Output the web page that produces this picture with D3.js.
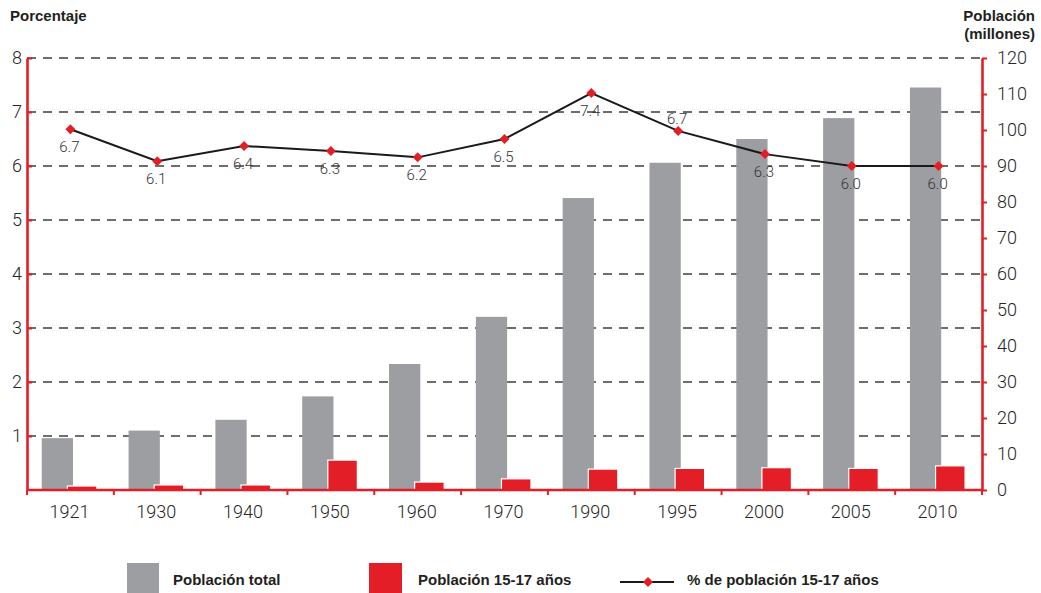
<!DOCTYPE html>
<html>
<head>
<meta charset="utf-8">
<script src="https://cdn.jsdelivr.net/npm/d3@7"></script>
<style>
  body { margin: 0; background: #fff; }
  text { font-family: Roboto, "Liberation Sans", sans-serif; }
  .tick text { font-weight: 300; fill: #262626; }
  .ttl { font-family: "Liberation Sans", Arial, sans-serif; font-weight: bold; font-size: 15px; fill: #231f20; }
</style>
</head>
<body>
<svg id="chart" width="1041" height="593"></svg>
<script>
'use strict'

var years    = ['1921','1930','1940','1950','1960','1970','1990','1995','2000','2005','2010']
var poblTotal = [14.4, 16.5, 19.5, 26.0, 35.0, 48.1, 81.1, 90.9, 97.5, 103.3, 111.8]   // millones
var pobl1517  = [1.1, 1.4, 1.4, 8.3, 2.2, 3.1, 5.8, 6.0, 6.2, 6.0, 6.7]                 // millones
var pct1517   = [6.68, 6.09, 6.37, 6.28, 6.16, 6.5, 7.35, 6.65, 6.22, 6.0, 6.0]         // % (as plotted)
var pctLabels = ['6.7','6.1','6.4','6.3','6.2','6.5','7.4','6.7','6.3','6.0','6.0']
var labelAbove = ['1995']
var leftTicks  = [1,2,3,4,5,6,7,8]
var rightTicks = [0,10,20,30,40,50,60,70,80,90,100,110,120]

var RED = '#e41e26', GRAY = '#9d9ea2'

var svg = d3.select('#chart')
var x0 = 27, x1 = 982, yTop = 58, yBot = 490

var x = d3.scaleBand().domain(years).range([x0, x1])
var yL = d3.scaleLinear().domain([0, 8]).range([yBot, yTop])
var yR = d3.scaleLinear().domain([0, 120]).range([yBot, yTop])
var bw = x.bandwidth()

// dashed grid
svg.append('g').selectAll('line')
  .data(leftTicks)
  .enter().append('line')
    .attr('x1', x0).attr('x2', x1)
    .attr('y1', d => yL(d)).attr('y2', d => yL(d))
    .attr('stroke', '#3f3f3f')
    .attr('stroke-width', 1.3)
    .attr('stroke-dasharray', '9,7')

// bars
var data = years.map((y, i) => ({year: y, total: poblTotal[i], jov: pobl1517[i], pct: pct1517[i], lab: pctLabels[i]}))

svg.append('g').selectAll('rect')
  .data(data)
  .enter().append('rect')
    .attr('x', d => x(d.year) + bw * 0.17)
    .attr('width', bw * 0.36)
    .attr('y', d => yR(d.total))
    .attr('height', d => yBot - yR(d.total))
    .attr('fill', GRAY)

svg.append('g').selectAll('rect')
  .data(data)
  .enter().append('rect')
    .attr('x', d => x(d.year) + bw * 0.465)
    .attr('width', bw * 0.34)
    .attr('y', d => yR(d.jov))
    .attr('height', d => yBot - yR(d.jov))
    .attr('fill', RED)
    .attr('stroke', '#fff')
    .attr('stroke-width', 1.2)

// axes
var axL = svg.append('g')
  .attr('transform', 'translate(' + x0 + ',0)')
  .call(d3.axisLeft(yL).tickValues(leftTicks).tickSize(-5).tickPadding(5).tickSizeOuter(0))
var axR = svg.append('g')
  .attr('transform', 'translate(' + x1 + ',0)')
  .call(d3.axisRight(yR).tickValues(rightTicks).tickSize(5).tickPadding(10).tickSizeOuter(0))
;[axL, axR].forEach(a => {
  a.select('.domain').attr('stroke', RED).attr('stroke-width', 2.6)
  a.selectAll('.tick line').attr('stroke', RED).attr('stroke-width', 2)
  a.selectAll('.tick text').attr('font-size', 18)
})

// bottom axis: line, ticks at band edges, labels centered
svg.append('line')
  .attr('x1', x0).attr('x2', x1).attr('y1', yBot).attr('y2', yBot)
  .attr('stroke', RED).attr('stroke-width', 2.6)
svg.append('g').selectAll('line')
  .data(years.concat(['end']))
  .enter().append('line')
    .attr('x1', (d, i) => x0 + i * bw).attr('x2', (d, i) => x0 + i * bw)
    .attr('y1', yBot).attr('y2', yBot + 5)
    .attr('stroke', RED).attr('stroke-width', 2)
svg.append('g').selectAll('text')
  .data(years)
  .enter().append('text')
    .attr('x', d => x(d) + bw / 2 - 1)
    .attr('y', 518)
    .attr('text-anchor', 'middle')
    .attr('font-size', 18)
    .attr('font-weight', 300)
    .attr('fill', '#262626')
    .text(d => d)

// line + markers
var line = d3.line().x(d => x(d.year) + bw / 2).y(d => yL(d.pct))
svg.append('path')
  .datum(data)
  .attr('d', line)
  .attr('fill', 'none')
  .attr('stroke', '#1a1a1a')
  .attr('stroke-width', 2)

var diamond = 'M0,-5L5,0L0,5L-5,0Z'
svg.append('g').selectAll('path')
  .data(data)
  .enter().append('path')
    .attr('transform', d => 'translate(' + (x(d.year) + bw / 2) + ',' + yL(d.pct) + ')')
    .attr('d', diamond)
    .attr('fill', RED)

svg.append('g').selectAll('text')
  .data(data)
  .enter().append('text')
    .attr('x', d => x(d.year) + bw / 2 - 1)
    .attr('y', d => yL(d.pct) + (labelAbove.includes(d.year) ? -7 : 23))
    .attr('text-anchor', 'middle')
    .attr('font-size', 15)
    .attr('font-weight', 300)
    .attr('fill', '#333')
    .text(d => d.lab)

// titles
svg.append('text').attr('class', 'ttl').attr('x', 10).attr('y', 21).text('Porcentaje')
svg.append('text').attr('class', 'ttl').attr('x', 1035).attr('y', 21).attr('text-anchor', 'end').text('Población')
svg.append('text').attr('class', 'ttl').attr('x', 1035).attr('y', 39).attr('text-anchor', 'end').text('(millones)')

// legend
var lg = svg.append('g')
lg.append('rect').attr('x', 127).attr('y', 563).attr('width', 32).attr('height', 31).attr('fill', GRAY)
lg.append('text').attr('class', 'ttl').attr('x', 173).attr('y', 585).text('Población total')
lg.append('rect').attr('x', 369).attr('y', 563).attr('width', 33).attr('height', 31).attr('fill', RED)
lg.append('text').attr('class', 'ttl').attr('x', 418).attr('y', 585).text('Población 15-17 años')
lg.append('line').attr('x1', 620).attr('x2', 674).attr('y1', 582).attr('y2', 582)
  .attr('stroke', '#1a1a1a').attr('stroke-width', 2)
lg.append('path').attr('transform', 'translate(648,582)').attr('d', diamond).attr('fill', RED)
lg.append('text').attr('class', 'ttl').attr('x', 687).attr('y', 585).text('% de población 15-17 años')
</script>
</body>
</html>
